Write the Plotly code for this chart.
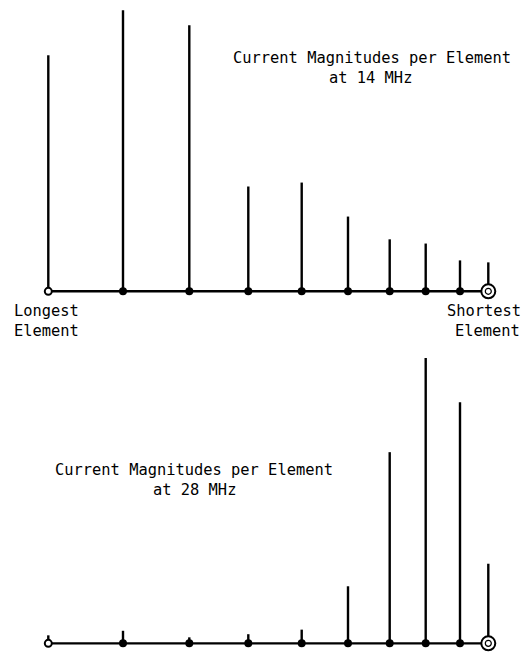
import plotly.graph_objects as go

# Element positions along the boom (arbitrary units, longest -> shortest)
positions = [0.0, 74.7, 141.0, 200.0, 253.4, 299.7, 341.4, 377.4, 411.7, 440.0]
# Relative current magnitudes (normalised to the maximum of each band)
mag_14 = [0.840, 1.000, 0.947, 0.373, 0.387, 0.266, 0.185, 0.170, 0.110, 0.103]
mag_28 = [0.028, 0.044, 0.021, 0.032, 0.048, 0.200, 0.670, 1.000, 0.845, 0.279]

title_14 = ["Current Magnitudes per Element", "at 14 MHz"]
title_28 = ["Current Magnitudes per Element", "at 28 MHz"]
label_long = ["Longest", "Element"]
label_short = ["Shortest", "Element"]

W, H = 528, 655
X0 = 48.3  # pixel of first element
LW = 2.4
FONT = dict(family="DejaVu Sans Mono", size=15.4, color="black")

fig = go.Figure()


def add_band(mags, yaxis):
    sx, sy = [], []
    for p, m in zip(positions, mags):
        sx += [p, p, None]
        sy += [0, m, None]
    fig.add_trace(go.Scatter(x=sx, y=sy, mode="lines", yaxis=yaxis,
                             line=dict(color="black", width=LW),
                             hoverinfo="skip", showlegend=False))
    fig.add_trace(go.Scatter(x=[positions[0], positions[-1]], y=[0, 0], mode="lines",
                             yaxis=yaxis, line=dict(color="black", width=LW),
                             hoverinfo="skip", showlegend=False))
    fig.add_trace(go.Scatter(x=positions[1:-1], y=[0] * (len(positions) - 2),
                             mode="markers", yaxis=yaxis,
                             marker=dict(color="black", size=8, symbol="circle"),
                             hoverinfo="skip", showlegend=False))
    fig.add_trace(go.Scatter(x=[positions[0]], y=[0], mode="markers", yaxis=yaxis,
                             marker=dict(color="white", size=7, symbol="circle",
                                         line=dict(color="black", width=2)),
                             hoverinfo="skip", showlegend=False))
    fig.add_trace(go.Scatter(x=[positions[-1]], y=[0], mode="markers", yaxis=yaxis,
                             marker=dict(color="white", size=14, symbol="circle",
                                         line=dict(color="black", width=2)),
                             hoverinfo="skip", showlegend=False))
    fig.add_trace(go.Scatter(x=[positions[-1]], y=[0], mode="markers", yaxis=yaxis,
                             marker=dict(color="white", size=6, symbol="circle",
                                         line=dict(color="black", width=1.2)),
                             hoverinfo="skip", showlegend=False))


add_band(mag_14, "y")
add_band(mag_28, "y2")

ax_off = dict(visible=False, showgrid=False, zeroline=False, fixedrange=True)
fig.update_layout(
    width=W, height=H,
    margin=dict(l=0, r=0, t=0, b=0),
    paper_bgcolor="white", plot_bgcolor="white",
    showlegend=False,
    xaxis=dict(range=[-X0, W - X0], **ax_off),
    yaxis=dict(domain=[1 - 330 / H, 1], range=[-0.1377, 1.0367], **ax_off),
    yaxis2=dict(domain=[0, 330 / H], range=[-0.0409, 1.1157], **ax_off),
)


def px_ann(text, x, y, xanchor):
    fig.add_annotation(text=text, xref="paper", yref="paper",
                       x=x / W, y=1 - y / H, xanchor=xanchor, yanchor="middle",
                       showarrow=False, font=FONT)


px_ann(title_14[0], 372, 58, "center")
px_ann(title_14[1], 370.5, 78.5, "center")
px_ann(title_28[0], 194, 469.5, "center")
px_ann(title_28[1], 194, 490, "center")
px_ann(label_long[0], 12, 311, "left")
px_ann(label_long[1], 12, 331, "left")
px_ann(label_short[0], 523, 311, "right")
px_ann(label_short[1], 522, 331, "right")

fig.write_html("out.html", config={"displayModeBar": False},
               post_script="document.body.style.margin='0';")
